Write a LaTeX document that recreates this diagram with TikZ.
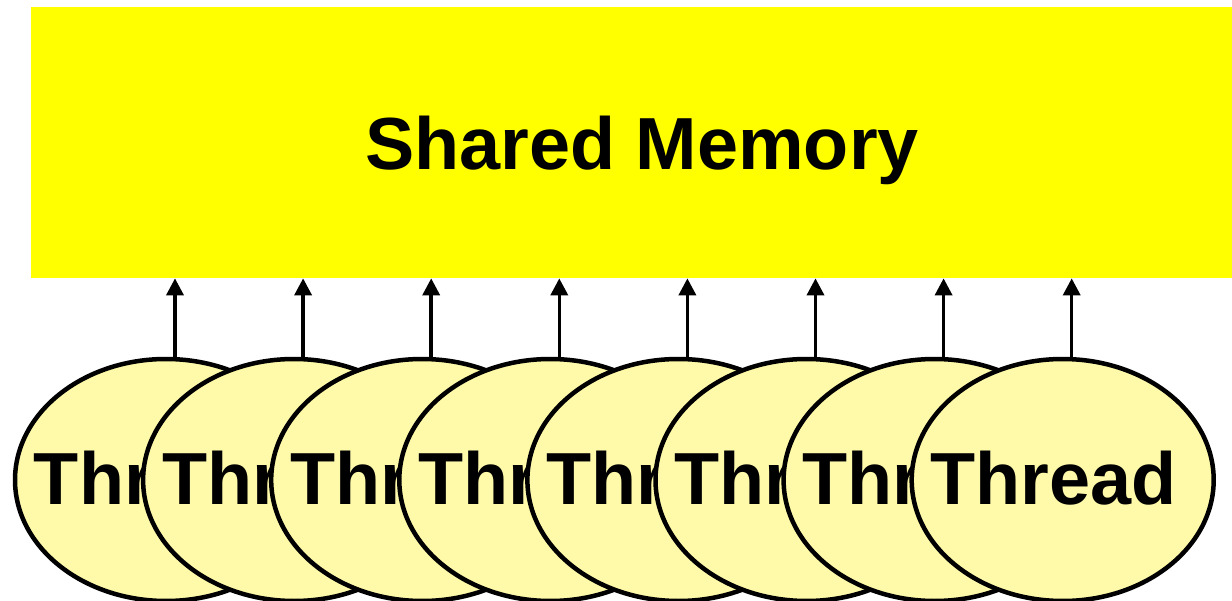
\documentclass[tikz,border=0pt]{standalone}
\usepackage{fontspec}
\setmainfont{Liberation Sans}
\usepackage{tikz}
\usetikzlibrary{positioning,arrows.meta,shapes.geometric}

\definecolor{memyellow}{RGB}{255,255,0}
\definecolor{threadfill}{RGB}{255,250,170}

\begin{document}
\begin{tikzpicture}[
    mem/.style={rectangle,fill=memyellow,minimum width=24.44cm,minimum height=5.42cm,
                inner sep=0,text depth=0pt,font=\fontsize{42}{48}\selectfont\bfseries},
    thread/.style={ellipse,draw,line width=0.09cm,fill=threadfill,inner sep=0,
                   minimum width=6.04cm,minimum height=4.84cm,
                   font=\fontsize{42}{48}\selectfont\bfseries},
    conn/.style={line width=0.07cm,-{Triangle[length=0.34cm,width=0.34cm]}}
]
\clip (0,0) rectangle (24.64,12);

\node[mem] (mem) at (12.84,9.15) {Shared Memory};

\foreach \i in {0,...,7}
  \node[thread] (t\i) at ({3.32+2.562*\i},2.4) {\makebox[0pt]{\hspace{-0.36cm}\raisebox{0.1cm}{Thread}}};

\foreach \i in {0,...,7}
  \draw[conn] ([xshift=0.18cm]t\i.north) -- ([xshift=0.18cm]t\i.north |- mem.south);
\end{tikzpicture}
\end{document}
